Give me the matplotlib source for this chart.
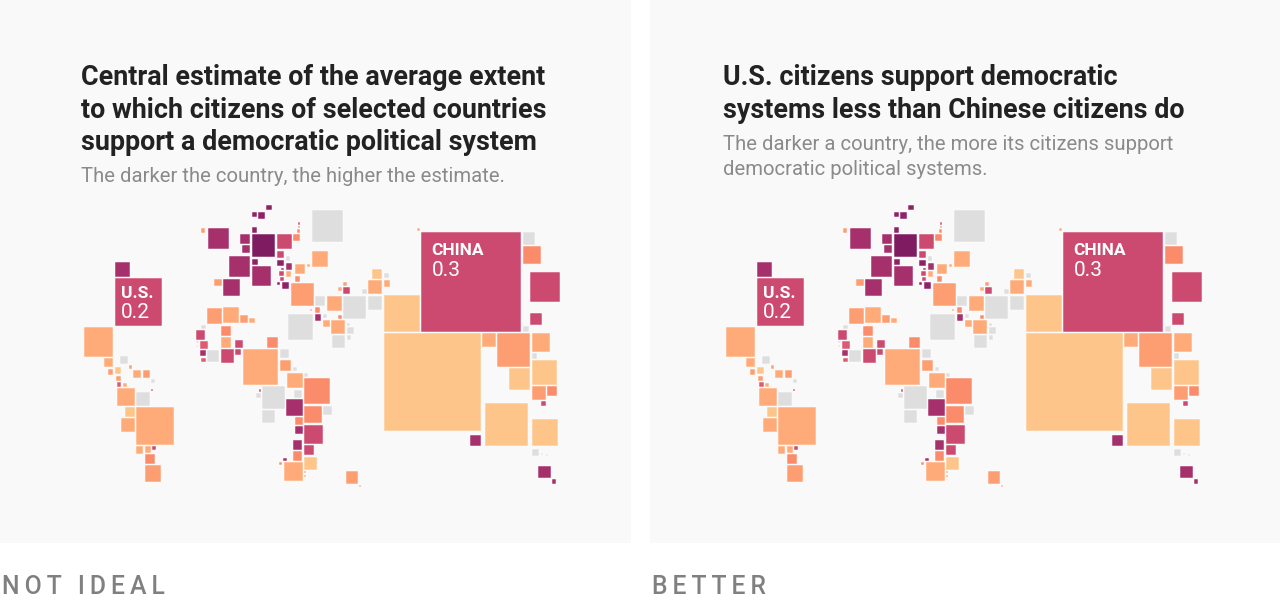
import matplotlib
matplotlib.use("Agg")
import matplotlib.pyplot as plt

plt.rcParams["font.family"] = ["Roboto", "DejaVu Sans"]

W, H = 1280, 602
PANEL_H = 543

# shade of every country: 0 darkest .. 8 lightest, 9 = no data
COLORS = ["#7f1c61", "#8f2167", "#a5306b", "#cc4a70", "#dc5a72",
          "#fb8c6b", "#fd9e72", "#feab79", "#fec58b", "#dedede"]

map_x = [
    266.7, 252, 258.3, 312, 298.3, 298, 297.3, 252, 201.3, 208.3, 240.7, 252, 277, 293.7, 242.7, 277,
    229.3, 252, 277.7, 286, 312, 307, 286, 281.7, 295, 279.7, 286, 252, 280.3, 295.3, 277.3, 282,
    214.7, 223.7, 291, 372.3, 384, 343.3, 338.3, 343.7, 362, 368.3, 384, 315.3, 327, 343.7, 368, 310,
    315.3, 315.3, 323.3, 338, 323.3, 288.3, 331.3, 347, 347.3, 347, 332.7, 207, 223.3, 240.3, 249.7, 201.3,
    221, 196.3, 221, 235.7, 267.7, 200, 196.3, 196.3, 200.3, 207.7, 221, 235.7, 201.7, 243, 280, 280.3,
    293.3, 287.3, 304.7, 304.3, 262.7, 259, 256.7, 294.7, 286.7, 304.7, 323.7, 262.7, 295, 295.7, 304.3, 293.3,
    304.7, 293.3, 283.7, 279.3, 304.7, 284, 304, 304.3, 346.3, 359.7, 104, 120, 115.3, 108, 129, 133.7,
    143, 116.3, 151, 117.3, 123, 151.3, 117.3, 136, 125, 136, 121, 136, 145, 152.3, 145, 145,
    115, 115, 84, 417, 421.3, 523, 523, 530.7, 530, 523, 384, 384, 482.7, 497.3, 532.3, 532.3,
    509.3, 532.3, 532.3, 547.7, 541, 485.7, 532, 470.3, 532.3, 541, 546.7, 538.7, 552,
]
map_y = [
    205, 211.7, 211.7, 210.3, 222.3, 225.7, 229, 227.3, 228, 228, 233.7, 233.7, 233.7, 234, 245.3, 251,
    256.3, 259, 259.7, 256, 250.7, 263.7, 263, 267.7, 263.7, 271.3, 271.3, 266.3, 277, 276, 282, 281.7,
    278.7, 278.7, 283, 269, 273.3, 281.7, 287, 287.3, 289, 280.3, 280.3, 295.7, 295.7, 295.7, 295.7, 308.7,
    307.3, 314.3, 314, 314.7, 320, 314, 320, 322.7, 327.3, 335.3, 335.3, 308.3, 307.3, 315.3, 317.7, 324.7,
    326, 330.3, 337.3, 340, 336.7, 340.7, 340.7, 344.7, 350.3, 350.3, 349.3, 349.3, 357.7, 349.3, 349.3, 360,
    367, 372.7, 372.7, 378.3, 386.3, 389.3, 393.3, 390, 399.3, 406, 405.7, 410.3, 417, 426.3, 425, 440.3,
    445.3, 451.3, 457.7, 462, 456.7, 462, 471, 474.7, 471.3, 485, 357.7, 356, 367.3, 369, 365.3, 370,
    370, 375.7, 378.7, 382.3, 383, 388.7, 388.3, 392, 407, 407, 418.3, 446.3, 446.3, 446.3, 453.7, 465,
    261.7, 278.3, 327, 227.7, 232.3, 232.3, 246, 272.3, 312.7, 326, 295.3, 333.3, 333.3, 333.3, 333.3, 353.3,
    368, 360, 386.3, 386.3, 401.3, 403.3, 419.3, 435, 449, 452.7, 454, 466, 479.3,
]
map_size = [
    5.3, 5, 7, 31.7, 2.3, 2.7, 3.5, 5.3, 4.5, 20.7, 10, 23.5, 15.3, 6.7, 7.7, 7.2,
    21, 6.2, 6.7, 4.7, 16.7, 3.7, 6.7, 2.5, 10.7, 5, 5.5, 19.7, 4, 5.5, 3.2, 7.7,
    7.3, 17, 23, 10, 5, 4, 3.7, 7, 5, 14, 6.7, 10.3, 15.3, 23, 14.7, 2,
    5.3, 6.5, 4.3, 4, 6.7, 25.5, 14.3, 3, 6.7, 4.3, 13, 15.3, 16, 8, 5.7, 4.7,
    10, 9.5, 10.3, 7.7, 11, 8.7, 2.7, 2.5, 6, 11.7, 13.2, 6, 4.7, 35.5, 9, 11.3,
    4.3, 15.7, 4, 26, 22.8, 2.3, 4.3, 8.2, 16.3, 17.3, 9, 13, 8, 7.3, 18.8, 9.5,
    9.8, 9.5, 3.3, 3, 13, 19, 2.3, 2.5, 12.3, 2, 9.7, 8, 6.7, 5.5, 3.5, 7.7,
    7.5, 5.5, 4.3, 4.7, 4, 2.3, 17.7, 14.2, 10, 38.3, 14, 7.7, 6.3, 3.7, 10.3, 16.7,
    15, 47.5, 29.7, 3.3, 100, 12.3, 18, 29.3, 12, 6, 36.5, 97.3, 13.7, 33.3, 18.3, 5.3,
    21.5, 24.7, 14, 9.3, 5, 42.7, 26.7, 11.3, 6.7, 2.3, 2, 12.3, 4.7,
]
map_shade = [
    1, 1, 1, 9, 3, 5, 5, 1, 6, 2, 2, 0, 3, 5, 2, 3,
    2, 1, 1, 9, 7, 7, 2, 2, 7, 3, 7, 2, 3, 5, 1, 1,
    6, 2, 6, 8, 9, 6, 7, 3, 9, 7, 7, 9, 7, 9, 9, 6,
    5, 2, 9, 5, 7, 9, 7, 9, 9, 9, 9, 6, 7, 6, 7, 9,
    5, 3, 7, 3, 5, 4, 9, 9, 2, 9, 3, 3, 4, 7, 9, 6,
    9, 7, 9, 5, 9, 3, 9, 9, 2, 5, 9, 9, 5, 2, 3, 2,
    3, 5, 2, 5, 8, 7, 6, 6, 6, 7, 7, 9, 8, 6, 6, 7,
    6, 6, 9, 4, 7, 3, 7, 9, 8, 7, 7, 7, 7, 3, 5, 6,
    2, 3, 7, 7, 3, 9, 5, 3, 3, 9, 8, 8, 7, 6, 7, 9,
    8, 8, 6, 5, 3, 8, 8, 2, 9, 9, 9, 2, 2,
]

title_left = ["Central estimate of the average extent",
              "to which citizens of selected countries",
              "support a democratic political system"]
title_right = ["U.S. citizens support democratic",
               "systems less than Chinese citizens do"]
sub_left = ["The darker the country, the higher the estimate."]
sub_right = ["The darker a country, the more its citizens support",
             "democratic political systems."]


def draw_panel(left_px, width_px, x_start, titles, title_y, subs, sub_y):
    fig_ax = [left_px / W, 1 - PANEL_H / H, width_px / W, PANEL_H / H]
    ax = fig.add_axes(fig_ax)
    ax.set_xlim(x_start, x_start + width_px)
    ax.set_ylim(PANEL_H, 0)
    ax.axis("off")
    ax.add_patch(plt.Rectangle((x_start, 0), width_px, PANEL_H, color="#f9f9f9", lw=0))

    ax.bar(map_x, map_size, width=map_size, bottom=map_y, align="edge",
           color=[COLORS[s] for s in map_shade], edgecolor="#ffffff", linewidth=0.35)

    for i, line in enumerate(titles):
        ax.text(81.2, title_y + i * 32.5, line, fontsize=19.4, fontweight="bold",
                color="#222222", va="baseline")
    for i, line in enumerate(subs):
        ax.text(81.2, sub_y + i * 25, line, fontsize=14.55, color="#8a8a8a", va="baseline")

    ax.text(432, 255, "CHINA", fontsize=12.5, fontweight="bold", color="white", va="baseline")
    ax.text(432.5, 276, "0.3", fontsize=15, color="white", va="baseline")
    ax.text(121.5, 297.5, "U.S.", fontsize=12.5, fontweight="bold", color="white", va="baseline")
    ax.text(121.5, 318, "0.2", fontsize=15, color="white", va="baseline")
    return ax


fig = plt.figure(figsize=(W / 100, H / 100), dpi=100, facecolor="white")

# map starts half a pixel left of the whole-number grid
draw_panel(0, 631, 0.5, title_left, 85, sub_left, 182)
draw_panel(650, 630, 8.5, title_right, 85, sub_right, 150)

fig.text(1.5 / W, 1 - 594 / H, "N\u2009O\u2009T\u2009 \u2009I\u2009D\u2009E\u2009A\u2009L",
         fontsize=17.8, fontweight="medium", color="#808080", va="baseline")
fig.text(651.5 / W, 1 - 594 / H, "B\u2009E\u2009T\u2009T\u2009E\u2009R",
         fontsize=17.8, fontweight="medium", color="#808080", va="baseline")

fig.savefig("out.png", dpi=100)
